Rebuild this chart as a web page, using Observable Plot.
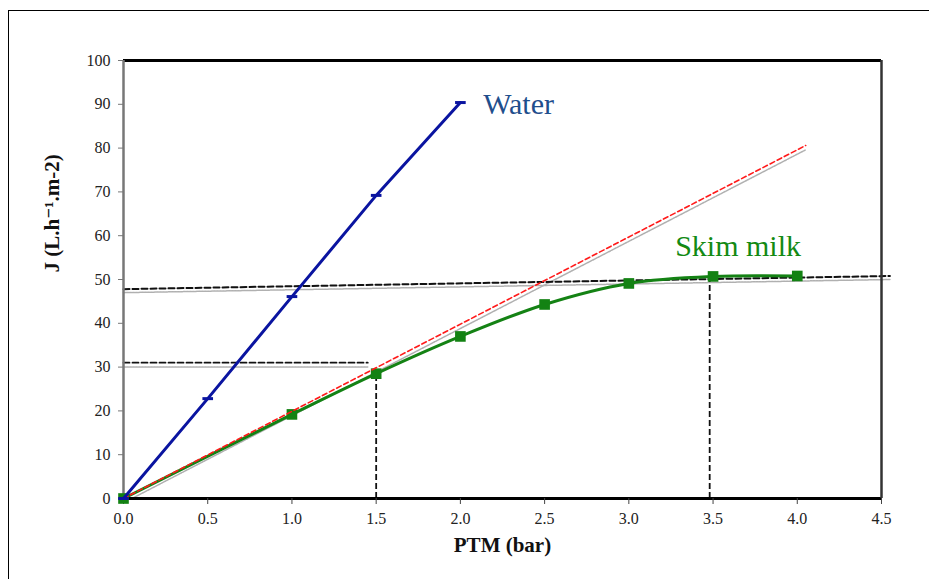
<!DOCTYPE html>
<html>
<head>
<meta charset="utf-8">
<script src="https://cdn.jsdelivr.net/npm/d3@7"></script>
<script src="https://cdn.jsdelivr.net/npm/@observablehq/plot@0.6"></script>
<style>
  html, body { margin: 0; padding: 0; background: white; }
  #wrap { position: relative; width: 929px; height: 579px; overflow: hidden; }
  #frame { position: absolute; left: 8px; top: 10px; width: 940px; height: 600px;
           border-left: 1.5px solid #000; border-top: 1.5px solid #000; pointer-events: none; }
  #wrap svg, #wrap svg text { font-family: "Liberation Serif", "Tinos", "DejaVu Serif", "Noto Serif", Times, serif !important; }
</style>
</head>
<body>
<div id="wrap"><div id="frame"></div></div>
<script>
// Data
const waterPTM = [0, 0.5, 1.0, 1.5, 2.0];
const waterJ   = [0, 22.8, 46.1, 69.2, 90.4];

const skimPTM = [0, 1.0, 1.5, 2.0, 2.5, 3.0, 3.5, 4.0];
const skimJ   = [0, 19.2, 28.5, 37.0, 44.3, 49.1, 50.7, 50.8];

// Guide lines (trend lines)
const redTrendX = [0, 4.05];
const redTrendY = [0, 80.6];
const grayTrendX = [0.05, 4.05];
const grayTrendY = [0, 79.6];
const plateauX = [0, 4.55];
const plateauY = [47.8, 50.8];
const plateauGrayY = [47.0, 50.0];
const level31X = [0, 1.45];
const level31Y = [31, 31];
const level31GrayY = [30, 30];
const criticalPTM = [1.5, 3.48];
const criticalJ = [28.5, 50.7];

const xTicks = [0, 0.5, 1.0, 1.5, 2.0, 2.5, 3.0, 3.5, 4.0, 4.5];
const yTicks = [0, 10, 20, 30, 40, 50, 60, 70, 80, 90, 100];

const labels = [
  {text: "Water", x: 2.135, y: 90, color: "#1F4E8C"},
  {text: "Skim milk", x: 3.275, y: 57.5, color: "#138A13"}
];

const water = waterPTM.map((x, i) => ({x, y: waterJ[i]}));
const skim = skimPTM.map((x, i) => ({x, y: skimJ[i]}));
const pair = (xs, ys) => xs.map((x, i) => ({x, y: ys[i]}));

const dashSymbol = {
  draw(ctx, size) {
    const r = Math.sqrt(size) / 2;
    ctx.moveTo(-r, 0); ctx.lineTo(r, 0);
  }
};

const serif = "'Liberation Serif', Tinos, 'DejaVu Serif', 'Noto Serif', Times, serif";

const chart = Plot.plot({
  width: 929,
  height: 579,
  marginLeft: 123,
  marginRight: 48,
  marginTop: 60,
  marginBottom: 81,
  x: {domain: [0, 4.5]},
  y: {domain: [0, 100]},
  style: {fontFamily: serif, fontSize: "15px", color: "#222", background: "transparent", overflow: "visible"},
  marks: [
    // guide lines
    Plot.line(pair(grayTrendX, grayTrendY), {x: "x", y: "y", stroke: "#b0b0b0", strokeWidth: 1.5, strokeDasharray: "2,1", clip: false}),
    Plot.line(pair(plateauX, plateauGrayY), {x: "x", y: "y", stroke: "#b0b0b0", strokeWidth: 1.5, strokeDasharray: "2,1", clip: false}),
    Plot.line(pair(level31X, level31GrayY), {x: "x", y: "y", stroke: "#b0b0b0", strokeWidth: 1.5, strokeDasharray: "2,1"}),
    Plot.line(pair(plateauX, plateauY), {x: "x", y: "y", stroke: "#111", strokeWidth: 2, strokeDasharray: "6,3", clip: false}),
    Plot.line(pair(level31X, level31Y), {x: "x", y: "y", stroke: "#111", strokeWidth: 1.8, strokeDasharray: "6,3"}),
    Plot.ruleX(criticalPTM.map((x, i) => ({x, y: criticalJ[i]})), {x: "x", y1: 0, y2: "y", stroke: "#111", strokeWidth: 1.8, strokeDasharray: "6,3"}),
    // axis frame
    Plot.ruleY([0], {stroke: "#000", strokeWidth: 3}),
    Plot.ruleY([100], {stroke: "#000", strokeWidth: 3}),
    Plot.ruleX([4.5], {stroke: "#333", strokeWidth: 2.5}),
    Plot.ruleX([0], {stroke: "#777", strokeWidth: 2.5}),
    Plot.axisX({ticks: xTicks, tickFormat: d3.format(".1f"), tickSize: 6, tickPadding: 8, stroke: "#444", fontSize: 16, fontFamily: serif, label: null}),
    Plot.axisY({ticks: yTicks, tickFormat: d => d, tickSize: 5, tickPadding: 8, stroke: "#777", fontSize: 16, fontFamily: serif, label: null}),
    // skim milk
    Plot.line(skim, {x: "x", y: "y", stroke: "#148214", strokeWidth: 3, curve: "catmull-rom"}),
    Plot.dot(skim, {x: "x", y: "y", symbol: "square", r: 6, fill: "#138213", stroke: "none"}),
    // red trend on top
    Plot.line(pair(redTrendX, redTrendY), {x: "x", y: "y", stroke: "#ff1a1a", strokeWidth: 1.6, strokeDasharray: "5,3", clip: false}),
    // water
    Plot.line(water, {x: "x", y: "y", stroke: "#0a14a0", strokeWidth: 3}),
    Plot.dot(water, {x: "x", y: "y", symbol: dashSymbol, r: 6, stroke: "#0a14a0", strokeWidth: 3}),
    // labels
    Plot.text(labels, {x: "x", y: "y", text: "text", fill: "color", textAnchor: "start", fontSize: 30, fontFamily: serif}),
    // axis titles
    Plot.text(["PTM (bar)"], {frameAnchor: "bottom", dy: 53, fontSize: 21, fontWeight: "bold", fontFamily: serif, fill: "#111"}),
    Plot.text(["J (L.h\u207B\u00B9.m-2)"], {frameAnchor: "left", dx: -71, dy: -7, rotate: -90, fontSize: 21, fontWeight: "bold", fontFamily: serif, fill: "#111"})
  ]
});
chart.style.position = "absolute";
chart.style.left = "0px";
chart.style.top = "0px";
document.getElementById("wrap").appendChild(chart);
</script>
</body>
</html>
